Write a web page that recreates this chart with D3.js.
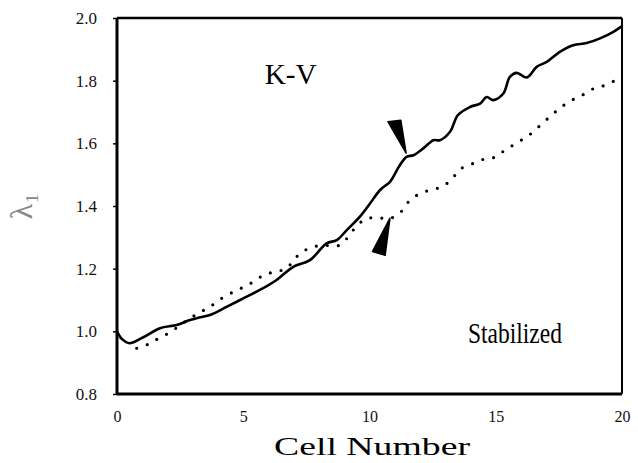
<!DOCTYPE html>
<html>
<head>
<meta charset="utf-8">
<script src="https://d3js.org/d3.v7.min.js"></script>
<style>
  body { margin: 0; padding: 0; background: #fff; }
  text { font-family: "Liberation Serif", "DejaVu Serif", serif; }
</style>
</head>
<body>
<svg id="chart" width="638" height="463"></svg>
<script>
// ---- data ----
const solidX = [0, 0.2, 0.5, 1.04, 1.7, 2.36, 2.89, 3.3, 3.68, 4.34, 5.0, 5.66, 6.32, 6.98, 7.64, 8.3, 8.7, 9.1, 9.62, 10.02, 10.42, 10.81, 10.94, 11.2, 11.47, 11.74, 12.13, 12.53, 12.79, 13.19, 13.5, 13.98, 14.38, 14.64, 14.9, 15.3, 15.56, 15.83, 16.23, 16.62, 17.02, 17.54, 18.07, 18.6, 19.13, 19.66, 20];
const solidY = [1.0, 0.975, 0.962, 0.981, 1.010, 1.020, 1.036, 1.045, 1.052, 1.078, 1.105, 1.132, 1.164, 1.206, 1.227, 1.281, 1.291, 1.323, 1.366, 1.408, 1.451, 1.477, 1.493, 1.53, 1.557, 1.562, 1.584, 1.61, 1.61, 1.637, 1.69, 1.716, 1.727, 1.748, 1.738, 1.759, 1.812, 1.825, 1.81, 1.844, 1.86, 1.892, 1.913, 1.92, 1.935, 1.956, 1.974];

const dotX = [0.78, 1.24, 1.66, 2.1, 2.5, 2.89, 3.29, 3.68, 4.08, 4.54, 4.98, 5.4, 5.82, 6.26, 6.72, 7.05, 7.45, 7.91, 8.4, 8.83, 9.16, 9.49, 9.89, 10.35, 10.81, 11.24, 11.54, 11.93, 12.4, 12.86, 13.26, 13.58, 14.05, 14.51, 14.94, 15.33, 15.8, 16.3, 16.8, 17.28, 17.65, 18.07, 18.5, 18.93, 19.37, 19.79, 20];
const dotY = [0.946, 0.959, 0.978, 0.997, 1.02, 1.041, 1.061, 1.078, 1.102, 1.123, 1.140, 1.158, 1.180, 1.190, 1.201, 1.233, 1.259, 1.272, 1.274, 1.275, 1.302, 1.336, 1.36, 1.362, 1.36, 1.381, 1.413, 1.437, 1.451, 1.461, 1.486, 1.517, 1.534, 1.549, 1.555, 1.576, 1.6, 1.625, 1.66, 1.695, 1.719, 1.74, 1.757, 1.777, 1.786, 1.804, 1.815];

const xTicks = [0, 5, 10, 15, 20];
const xTickLabels = ["0", "5", "10", "15", "20"];
const yTicks = [0.8, 1.0, 1.2, 1.4, 1.6, 1.8, 2.0];
const yTickLabels = ["0.8", "1.0", "1.2", "1.4", "1.6", "1.8", "2.0"];

// arrowheads: [tip, base1, base2] in data units
const upperArrow = [[11.45, 1.569], [10.73, 1.669], [11.24, 1.674]];
const lowerArrow = [[10.81, 1.361], [10.12, 1.255], [10.62, 1.243]];

// ---- layout ----
const svg = d3.select("#chart");
const margin = { top: 18, right: 16, bottom: 69, left: 117 };
const W = 638 - margin.left - margin.right;
const H = 463 - margin.top - margin.bottom;

const x = d3.scaleLinear().domain([0, 20]).range([0, W]);
const y = d3.scaleLinear().domain([0.8, 2.0]).range([H, 0]);

const g = svg.append("g")
    .attr("transform", "translate(" + margin.left + "," + margin.top + ")");

// y axis ticks + labels
const yAxis = d3.axisLeft(y)
    .tickValues(yTicks)
    .tickFormat((d, i) => yTickLabels[i])
    .tickSize(4)
    .tickPadding(16);
const ya = g.append("g").call(yAxis);
ya.select(".domain").remove();
ya.selectAll("line").attr("stroke", "#000").attr("stroke-width", 1.5);
ya.selectAll("text").attr("font-size", 17).attr("fill", "#111")
    .attr("font-family", "Liberation Serif");

// x axis labels
const xAxis = d3.axisBottom(x)
    .tickValues(xTicks)
    .tickFormat((d, i) => xTickLabels[i])
    .tickSize(0)
    .tickPadding(17);
const xa = g.append("g").attr("transform", "translate(0," + H + ")").call(xAxis);
xa.select(".domain").remove();
xa.selectAll("text").attr("font-size", 16).attr("fill", "#111")
    .attr("font-family", "Liberation Serif");

// frame
g.append("line").attr("x1", 0).attr("x2", 0).attr("y1", 0).attr("y2", H)
    .attr("stroke", "#000").attr("stroke-width", 3);
g.append("line").attr("x1", 0).attr("x2", W).attr("y1", H).attr("y2", H)
    .attr("stroke", "#000").attr("stroke-width", 3);
g.append("line").attr("x1", 0).attr("x2", W).attr("y1", 0).attr("y2", 0)
    .attr("stroke", "#000").attr("stroke-width", 2.5);
g.append("line").attr("x1", W).attr("x2", W).attr("y1", 0).attr("y2", H)
    .attr("stroke", "#000").attr("stroke-width", 2);

// curves
const line = d3.line()
    .x(d => x(d[0]))
    .y(d => y(d[1]))
    .curve(d3.curveCatmullRom);

g.append("path")
    .datum(dotX.map((v, i) => [v, dotY[i]]))
    .attr("d", line)
    .attr("fill", "none")
    .attr("stroke", "#000")
    .attr("stroke-width", 3.2)
    .attr("stroke-linecap", "round")
    .attr("stroke-dasharray", "0 11");

g.append("path")
    .datum(solidX.map((v, i) => [v, solidY[i]]))
    .attr("d", line)
    .attr("fill", "none")
    .attr("stroke", "#000")
    .attr("stroke-width", 2.6)
    .attr("stroke-linejoin", "round");

// arrowheads
g.selectAll("path.arrow").data([upperArrow, lowerArrow])
    .join("path")
    .attr("class", "arrow")
    .attr("d", d => "M" + d.map(p => x(p[0]) + "," + y(p[1])).join("L") + "Z")
    .attr("fill", "#000")
    .attr("stroke", "#000")
    .attr("stroke-width", 1.5)
    .attr("stroke-linejoin", "round");

// annotations
g.append("text")
    .attr("x", x(5.85)).attr("y", y(1.79))
    .attr("font-size", 29)
    .attr("textLength", 52).attr("lengthAdjust", "spacingAndGlyphs")
    .text("K-V");

g.append("text")
    .attr("x", x(13.9)).attr("y", y(0.963))
    .attr("font-size", 30)
    .attr("textLength", 94).attr("lengthAdjust", "spacingAndGlyphs")
    .text("Stabilized");

// axis titles
svg.append("text")
    .attr("x", margin.left + x(10.1)).attr("y", 455)
    .attr("text-anchor", "middle")
    .attr("font-size", 26)
    .attr("textLength", 196).attr("lengthAdjust", "spacingAndGlyphs")
    .text("Cell Number");

svg.append("text")
    .attr("transform", "translate(32," + (margin.top + y(1.4)) + ") rotate(-90)")
    .attr("text-anchor", "middle")
    .attr("font-size", 32)
    .attr("fill", "#888")
    .text("λ₁");
</script>
</body>
</html>
